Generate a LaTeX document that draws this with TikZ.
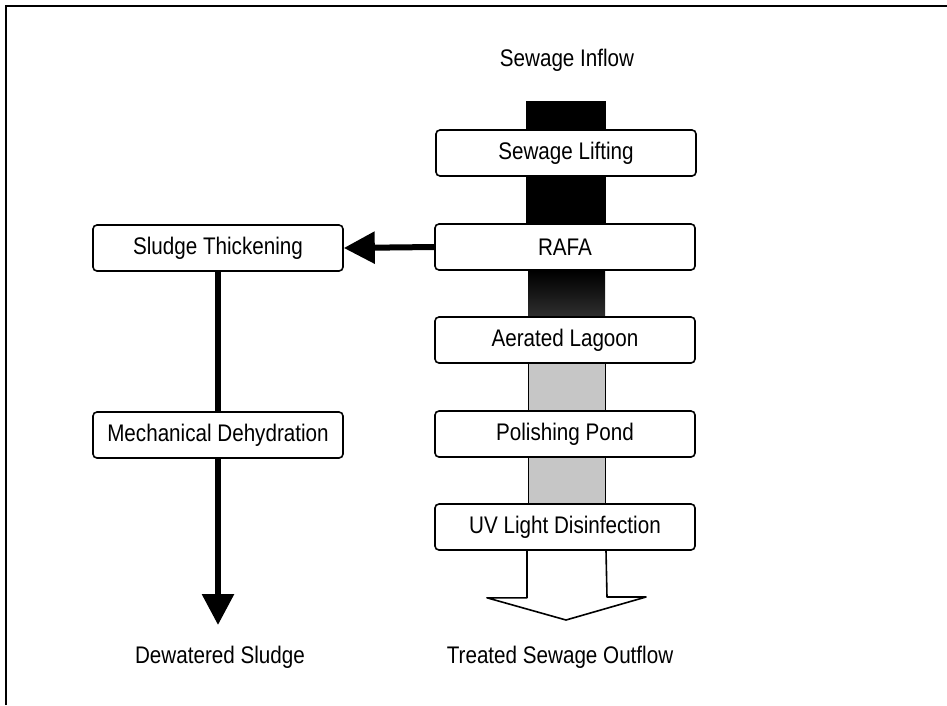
\documentclass[tikz,border=0pt]{standalone}
\usepackage{fontspec}
\setmainfont{Liberation Sans}[FakeStretch=0.86]
\usetikzlibrary{positioning}
\usetikzlibrary{calc}
\usetikzlibrary{arrows.meta}
\usetikzlibrary{backgrounds}

\begin{document}
\begin{tikzpicture}[x=1pt, y=-1pt,
    stage/.style={draw, line width=1.6pt, rounded corners=4pt, fill=white,
        minimum width=260pt, minimum height=46pt, inner sep=0pt,
        font=\fontsize{24}{28}\selectfont},
    endtext/.style={font=\fontsize{24}{28}\selectfont},
    flow/.style={line width=6pt, -{Triangle[length=31pt, width=31pt]}}]
    \useasboundingbox (0,0) rectangle (947,705);

    % Frame
    \draw[line width=1.8pt] (6,705) -- (6,6) -- (947,6);

    % Sewage line
    \node[endtext] (inflow) at (567,60) {Sewage Inflow};
    \node[stage] (lift) at (566,153) {Sewage Lifting};
    \node[stage] (rafa) at (565,247) {RAFA};
    \node[stage] (aer) at (565,340) {Aerated Lagoon};
    \node[stage] (pol) at (565,434) {Polishing Pond};
    \node[stage] (uv) at (565,527) {UV Light Disinfection};
    \node[endtext] (outflow) at (560,657) {Treated Sewage Outflow};

    % Sludge line
    \node[stage, minimum width=250pt] (thick) at (218,248) {Sludge Thickening};
    \node[stage, minimum width=250pt] (dehyd) at (218,435) {Mechanical Dehydration};
    \node[endtext] (dry) at (220,657) {Dewatered Sludge};

    \coordinate (bartop) at (566,101);
    \coordinate (outtip) at (566,620);
    \coordinate (dryend) at (218,625);

    % Bars behind the stages
    \begin{scope}[on background layer]
        \fill[black] ([xshift=-40pt]bartop) rectangle ([xshift=41pt]rafa.south);
        \shade[top color=black, bottom color=black!82]
            ([xshift=-37pt]rafa.south) rectangle ([xshift=40pt]aer.north);
        \filldraw[fill=gray!45, line width=1pt]
            ([xshift=-37pt]aer.south) rectangle ([xshift=40pt]pol.north);
        \filldraw[fill=gray!45, line width=1pt]
            ([xshift=-37pt]pol.south) rectangle ([xshift=40pt]uv.south);
        \draw[line width=1.6pt, fill=white, line join=round]
            ([xshift=-38pt]uv.south) -- ++(0,47) -- ++(-40,0) -- (outtip)
            -- ++(80,-23) -- ++(-39,0) -- ([xshift=41pt]uv.south);
    \end{scope}

    % Sludge arrows
    \draw[flow] (rafa.west) -- (thick.east);
    \draw[line width=6pt] (thick.south) -- (dehyd.north);
    \draw[flow] (dehyd.south) -- (dryend);
\end{tikzpicture}
\end{document}
